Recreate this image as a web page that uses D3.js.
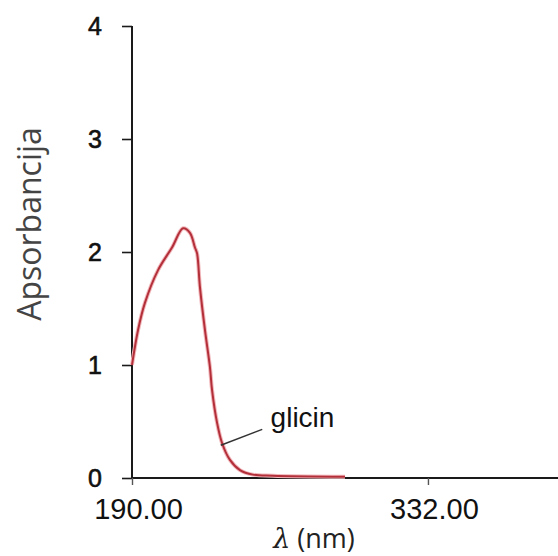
<!DOCTYPE html>
<html>
<head>
<meta charset="utf-8">
<script src="https://cdn.jsdelivr.net/npm/d3@7"></script>
<style>
  html, body { margin: 0; padding: 0; background: #fff; }
  svg { display: block; }
</style>
</head>
<body>
<svg id="chart"></svg>
<script>
// spectrum: wavelength (nm) and absorbance
const wavelength = [190, 192.9, 196.2, 202.5, 209.2, 214.5, 217.8, 220.2, 221.2, 222.6, 225.0, 227.4, 228.4, 230.8, 233.2, 237.0, 241.8, 248.0, 257.6, 292.2];
const absorbance = [1.0, 1.31, 1.55, 1.84, 2.04, 2.21, 2.17, 2.04, 1.99, 1.69, 1.31, 0.98, 0.78, 0.49, 0.31, 0.16, 0.07, 0.03, 0.02, 0.01];
const xTicks = [190, 332];
const yTicks = [0, 1, 2, 3, 4];
const seriesLabel = 'glicin';

const width = 558;
const height = 556;

const x = d3.scaleLinear().domain([190, 394.4]).range([132, 558]);
const y = d3.scaleLinear().domain([0, 4]).range([478, 26]);

const svg = d3.select('#chart')
    .attr('width', width)
    .attr('height', height);

const axisColor = '#1a1a1a';

// y axis
const yAxis = svg.append('g')
    .attr('transform', `translate(${x(190)},0)`)
    .call(d3.axisLeft(y).tickValues(yTicks).tickSize(10).tickPadding(20).tickFormat(d3.format('d')));
yAxis.select('.domain').attr('stroke', axisColor).attr('stroke-width', 2).attr('d', `M0,${y(4)}V${y(0)}`);
yAxis.selectAll('.tick line').attr('stroke', axisColor).attr('stroke-width', 1.6);
yAxis.selectAll('.tick text')
    .attr('fill', '#111')
    .attr('stroke', '#111')
    .attr('stroke-width', 0.6)
    .style('font-family', '"Liberation Sans", Arial, sans-serif')
    .style('font-size', '25px');

// x axis
const xAxis = svg.append('g')
    .attr('transform', `translate(0,${y(0)})`)
    .call(d3.axisBottom(x).tickValues(xTicks).tickSize(7).tickPadding(13).tickFormat(d3.format('.2f')));
xAxis.select('.domain').attr('stroke', axisColor).attr('stroke-width', 2).attr('d', `M${x(190) - 1},0H${width}`);
xAxis.selectAll('.tick line').attr('stroke', '#555').attr('stroke-width', 1.4);
xAxis.selectAll('.tick text')
    .attr('fill', '#111')
    .attr('dx', 6)
    .style('font-family', '"Liberation Sans", Arial, sans-serif')
    .style('font-size', '29px');

// spectrum curve
const points = wavelength.map((w, i) => [w, absorbance[i]]);
const line = d3.line()
    .x(d => x(d[0]))
    .y(d => y(d[1]))
    .curve(d3.curveCatmullRom.alpha(0.5));

svg.append('path')
    .datum(points)
    .attr('fill', 'none')
    .attr('stroke', '#f2b8bc')
    .attr('stroke-width', 4)
    .attr('d', line);
svg.append('path')
    .datum(points)
    .attr('fill', 'none')
    .attr('stroke', '#b3303a')
    .attr('stroke-width', 2)
    .attr('d', line);

// annotation
svg.append('line')
    .attr('x1', x(232.6)).attr('y1', y(0.29))
    .attr('x2', x(252.5)).attr('y2', y(0.43))
    .attr('stroke', '#333')
    .attr('stroke-width', 1.5);
svg.append('text')
    .attr('x', x(256.5))
    .attr('y', y(0.455))
    .attr('fill', '#111')
    .style('font-family', '"Liberation Sans", Arial, sans-serif')
    .style('font-size', '28px')
    .text(seriesLabel);

// axis titles
svg.append('text')
    .attr('transform', `translate(41,224) rotate(-90)`)
    .attr('text-anchor', 'middle')
    .attr('fill', '#444')
    .style('font-family', '"Open Sans", sans-serif')
    .style('font-size', '32px')
    .text('Apsorbancija');

const xTitle = svg.append('text')
    .attr('x', 314)
    .attr('y', 548)
    .attr('text-anchor', 'middle')
    .attr('fill', '#222')
    .style('font-family', '"Open Sans", sans-serif')
    .style('font-size', '27px');
xTitle.append('tspan')
    .style('font-family', '"DejaVu Serif", serif')
    .style('font-style', 'italic')
    .text('λ');
xTitle.append('tspan').text(' (nm)');
</script>
</body>
</html>
